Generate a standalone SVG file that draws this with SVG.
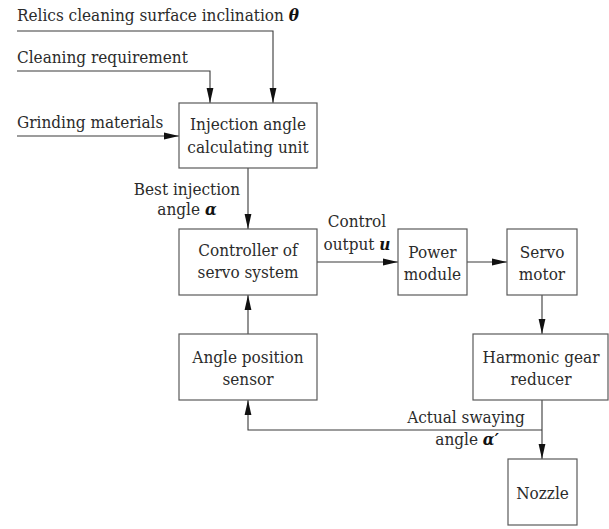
<svg xmlns="http://www.w3.org/2000/svg" width="609" height="529" viewBox="0 0 609 529">
<style>
text{font-family:"DejaVu Serif Condensed","DejaVu Serif",serif;font-stretch:condensed;font-size:17px;fill:#2b2b2b}
.c{text-anchor:middle}
.b{font-weight:bold;font-style:italic;fill:#111}
rect{fill:#fff;stroke:#5a5a5a;stroke-width:1.2}
.w{fill:none;stroke:#3a3a3a;stroke-width:1.1}
</style>
<defs>
<marker id="ah" markerWidth="15" markerHeight="8" refX="15" refY="4" orient="auto" markerUnits="userSpaceOnUse">
<path d="M0,0.6 L15,4 L0,7.4 Z" fill="#111"/>
</marker>
</defs>
<rect width="609" height="529" style="fill:#fff;stroke:none"/>
<g id="connectors">
<path class="w" d="M17,31 H273 V103" marker-end="url(#ah)"/>
<path class="w" d="M17,71 H210 V103" marker-end="url(#ah)"/>
<path class="w" d="M17,136 H179" marker-end="url(#ah)"/>
<path class="w" d="M248,168 V229" marker-end="url(#ah)"/>
<path class="w" d="M317,262 H398" marker-end="url(#ah)"/>
<path class="w" d="M467,262 H507" marker-end="url(#ah)"/>
<path class="w" d="M542,295 V334" marker-end="url(#ah)"/>
<path class="w" d="M542,400 V459" marker-end="url(#ah)"/>
<path class="w" d="M542,430 H248 V400" marker-end="url(#ah)"/>
<path class="w" d="M248,334 V295" marker-end="url(#ah)"/>
</g>
<g id="labels">
<text x="17" y="21">Relics cleaning surface inclination <tspan class="b">θ</tspan></text>
<text x="17" y="63">Cleaning requirement</text>
<text x="17" y="128">Grinding materials</text>
<text class="c" x="187" y="195">Best injection</text>
<text class="c" x="187" y="215">angle <tspan class="b">α</tspan></text>
<text class="c" x="357" y="227">Control</text>
<text class="c" x="357" y="250">output <tspan class="b">u</tspan></text>
<text class="c" x="466" y="423">Actual swaying</text>
<text class="c" x="467" y="445">angle <tspan class="b">α′</tspan></text>
</g>
<g id="injection">
<rect x="179" y="103" width="138" height="65"/>
<text class="c" x="248" y="130">Injection angle</text>
<text class="c" x="248" y="153">calculating unit</text>
</g>
<g id="controller">
<rect x="179" y="229" width="138" height="66"/>
<text class="c" x="248" y="256">Controller of</text>
<text class="c" x="248" y="278">servo system</text>
</g>
<g id="power">
<rect x="398" y="229" width="69" height="66"/>
<text class="c" x="432.5" y="258">Power</text>
<text class="c" x="432.5" y="280">module</text>
</g>
<g id="servo">
<rect x="507" y="229" width="70" height="66"/>
<text class="c" x="542" y="258">Servo</text>
<text class="c" x="542" y="280">motor</text>
</g>
<g id="harmonic">
<rect x="473" y="334" width="135" height="66"/>
<text class="c" x="541" y="363">Harmonic gear</text>
<text class="c" x="541" y="385">reducer</text>
</g>
<g id="sensor">
<rect x="179" y="334" width="138" height="66"/>
<text class="c" x="248" y="363">Angle position</text>
<text class="c" x="248" y="385">sensor</text>
</g>
<g id="nozzle">
<rect x="508" y="459" width="69" height="66"/>
<text class="c" x="542.5" y="499">Nozzle</text>
</g>
</svg>
